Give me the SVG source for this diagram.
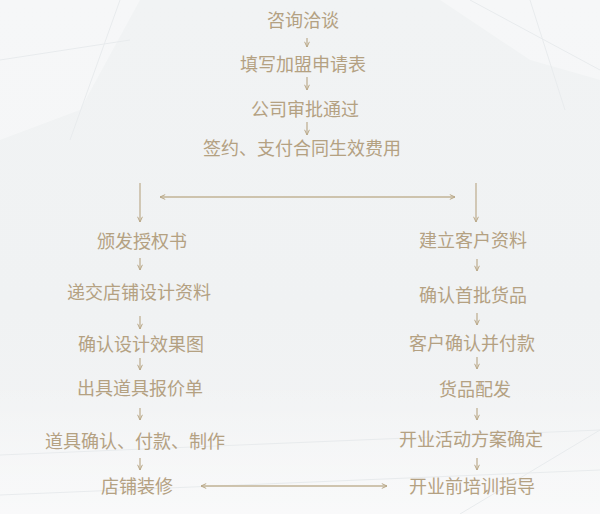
<svg xmlns="http://www.w3.org/2000/svg" width="600" height="514" viewBox="0 0 600 514">
  <defs>
    <linearGradient id="bg" x1="0" y1="0" x2="0" y2="1">
      <stop offset="0" stop-color="#f1f3f4"/>
      <stop offset="0.6" stop-color="#f0f2f3"/>
      <stop offset="1" stop-color="#f3f4f5"/>
    </linearGradient>
    <linearGradient id="floor" x1="0" y1="0" x2="0" y2="1">
      <stop offset="0" stop-color="#ffffff" stop-opacity="0"/>
      <stop offset="1" stop-color="#ffffff" stop-opacity="0.5"/>
    </linearGradient>
    <marker id="ah" viewBox="0 0 6 6" refX="5.6" refY="3" markerWidth="6" markerHeight="6" markerUnits="userSpaceOnUse" orient="auto-start-reverse">
      <path d="M0.4,0.6 L5.6,3 L0.4,5.4" fill="none" stroke="#b9a888" stroke-width="1"/>
    </marker>
    <style>
      .t { font-family: "Noto Sans CJK SC", "Noto Sans", sans-serif; font-size: 18px; fill: #b4a182; text-anchor: middle; dominant-baseline: central; }
      .c { stroke: #bcab8c; stroke-width: 1.2; fill: none; marker-end: url(#ah); }
      .d { stroke: #c2b396; stroke-width: 1.4; fill: none; marker-start: url(#ah); marker-end: url(#ah); }
      .deco { fill: #ffffff; opacity: 0.35; }
      .dl { stroke: #e8ebed; stroke-width: 1; fill: none; }
    </style>
  </defs>

  <rect width="600" height="514" fill="url(#bg)"/>
  <g id="background">
    <polygon class="deco" points="440,0 600,0 600,80 530,60"/>
    <polygon class="deco" points="0,0 140,0 80,110 0,140"/>
    <rect x="0" y="380" width="600" height="134" fill="url(#floor)"/>
    <path class="dl" d="M470,0 L600,70 M530,0 L565,110 M120,0 L70,140 M0,60 L130,40"/>
    <path class="dl" d="M0,455 L600,430 M0,495 L600,470 M460,514 L600,430"/>
  </g>

  <g id="connectors">
    <line class="c" x1="307" y1="38" x2="307" y2="47"/>
    <line class="c" x1="307" y1="77" x2="307" y2="90"/>
    <line class="c" x1="307" y1="122" x2="307" y2="135"/>
    <line class="c" x1="140" y1="183" x2="140" y2="222"/>
    <line class="c" x1="476" y1="183" x2="476" y2="222"/>
    <line class="d" x1="160" y1="197" x2="455" y2="197"/>
    <line class="c" x1="140" y1="258" x2="140" y2="270"/>
    <line class="c" x1="140" y1="316" x2="140" y2="329"/>
    <line class="c" x1="140" y1="358" x2="140" y2="370"/>
    <line class="c" x1="140" y1="408" x2="140" y2="420"/>
    <line class="c" x1="140" y1="458" x2="140" y2="470"/>
    <line class="c" x1="477" y1="259" x2="477" y2="271"/>
    <line class="c" x1="477" y1="313" x2="477" y2="325"/>
    <line class="c" x1="477" y1="357" x2="477" y2="369"/>
    <line class="c" x1="477" y1="408" x2="477" y2="420"/>
    <line class="c" x1="477" y1="458" x2="477" y2="470"/>
    <line class="d" x1="201" y1="486" x2="387" y2="486"/>
  </g>

  <g id="n1"><text class="t" x="303" y="19">咨询洽谈</text></g>
  <g id="n2"><text class="t" x="303" y="63">填写加盟申请表</text></g>
  <g id="n3"><text class="t" x="305" y="108">公司审批通过</text></g>
  <g id="n4"><text class="t" x="302" y="147">签约、支付合同生效费用</text></g>

  <g id="l1"><text class="t" x="142" y="240">颁发授权书</text></g>
  <g id="l2"><text class="t" x="139" y="291">递交店铺设计资料</text></g>
  <g id="l3"><text class="t" x="141" y="343">确认设计效果图</text></g>
  <g id="l4"><text class="t" x="140" y="387">出具道具报价单</text></g>
  <g id="l5"><text class="t" x="135" y="440">道具确认、付款、制作</text></g>
  <g id="l6"><text class="t" x="137" y="485">店铺装修</text></g>

  <g id="r1"><text class="t" x="473" y="239">建立客户资料</text></g>
  <g id="r2"><text class="t" x="473" y="294">确认首批货品</text></g>
  <g id="r3"><text class="t" x="472" y="342">客户确认并付款</text></g>
  <g id="r4"><text class="t" x="475" y="388">货品配发</text></g>
  <g id="r5"><text class="t" x="471" y="438">开业活动方案确定</text></g>
  <g id="r6"><text class="t" x="472" y="485">开业前培训指导</text></g>
</svg>
